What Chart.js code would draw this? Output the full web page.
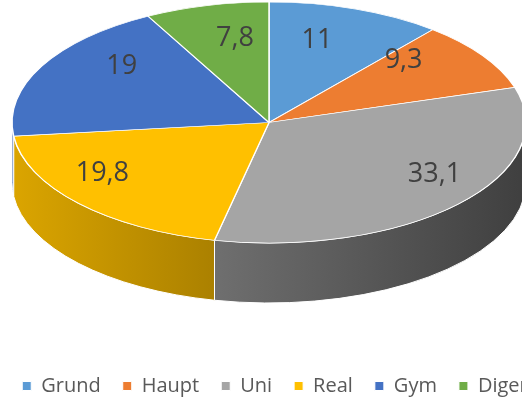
<!DOCTYPE html>
<html>
<head>
<meta charset="utf-8">
<script src="https://cdn.jsdelivr.net/npm/chart.js@4"></script>
<style>
  html, body { margin: 0; padding: 0; background: #fff; overflow: hidden; }
  #wrap { width: 550px; height: 405px; }
</style>
</head>
<body>
<div id="wrap"><canvas id="schoolChart"></canvas></div>
<script>
// Anteile je Schulabschluss
const labels = ["Grund", "Haupt", "Uni", "Real", "Gym", "Diger"];
const values = [11, 9.3, 33.1, 19.8, 19, 7.8];
const colors = ["#5B9BD5", "#ED7D31", "#A5A5A5", "#FFC000", "#4472C4", "#70AD47"];

// ellipse where the top face lands + wall height
const tilt = { ex: 269, ey: 122.5, rx: 257, ry: 120.5, depth: 60 };

function shade(hex, f) {
  const n = parseInt(hex.slice(1), 16);
  const r = Math.round(((n >> 16) & 255) * f);
  const g = Math.round(((n >> 8) & 255) * f);
  const b = Math.round((n & 255) * f);
  return `rgb(${r},${g},${b})`;
}

const pie3d = {
  id: "pie3d",
  beforeDatasetsDraw(chart) {
    const ctx = chart.ctx;
    const arcs = chart.getDatasetMeta(0).data;
    const { ex, ey, rx, ry, depth } = tilt;

    // side walls (front half only: canvas angles 0..PI)
    arcs.forEach((arc, i) => {
      const a1 = Math.max(arc.startAngle, 0), a2 = Math.min(arc.endAngle, Math.PI);
      if (a2 <= a1) return;
      const grad = ctx.createLinearGradient(ex - rx, 0, ex + rx, 0);
      grad.addColorStop(0, shade(colors[i], 0.86));
      grad.addColorStop(1, shade(colors[i], 0.38));
      ctx.beginPath();
      ctx.ellipse(ex, ey, rx, ry, 0, a1, a2);
      ctx.ellipse(ex, ey + depth, rx, ry, 0, a2, a1, true);
      ctx.closePath();
      ctx.fillStyle = grad;
      ctx.fill();
      ctx.strokeStyle = "#ffffff";
      ctx.lineWidth = 1;
      ctx.stroke();
    });

    // squash the library's circle onto the ellipse
    const a0 = arcs[0];
    const R = a0.outerRadius;
    ctx.save();
    ctx.translate(ex, ey);
    ctx.scale(rx / R, ry / R);
    ctx.translate(-a0.x, -a0.y);
  },
  afterDatasetsDraw(chart) {
    const ctx = chart.ctx;
    ctx.restore();
    const arcs = chart.getDatasetMeta(0).data;
    const { ex, ey, rx, ry } = tilt;
    ctx.save();
    ctx.font = "27px 'Open Sans'";
    ctx.fillStyle = "#404040";
    ctx.textAlign = "center";
    ctx.textBaseline = "middle";
    arcs.forEach((arc, i) => {
      const mid = (arc.startAngle + arc.endAngle) / 2;
      // nearer slices get their label further out (fake perspective)
      const f = 0.74 + 0.2 * Math.sin(mid);
      const x = ex + rx * f * Math.cos(mid);
      const y = ey - 20 + ry * f * Math.sin(mid);
      ctx.fillText(String(values[i]).replace(".", ","), x, y);
    });
    ctx.restore();
  }
};

new Chart(document.getElementById("schoolChart"), {
  type: "pie",
  data: {
    labels,
    datasets: [{
      data: values,
      backgroundColor: colors,
      borderColor: "#ffffff",
      borderWidth: 1,
      clip: false
    }]
  },
  options: {
    responsive: true,
    maintainAspectRatio: false,
    animation: false,
    layout: { padding: { bottom: -1 } },
    plugins: {
      legend: {
        position: "bottom",
        labels: {
          boxWidth: 9,
          boxHeight: 9,
          padding: 22,
          color: "#595959",
          font: { family: "'Open Sans'", size: 20 }
        }
      },
      tooltip: { enabled: false }
    }
  },
  plugins: [pie3d]
});
</script>
</body>
</html>
